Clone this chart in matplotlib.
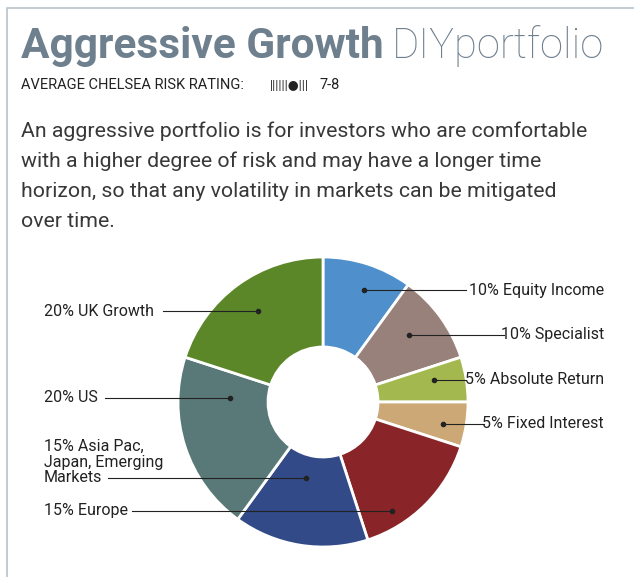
import matplotlib
matplotlib.use('Agg')
import matplotlib.pyplot as plt

plt.rcParams['font.family'] = ['Roboto', 'DejaVu Sans']

# 组合配置 (顺时针, 从12点方向开始)
labels = ["10% Equity Income", "10% Specialist", "5% Absolute Return", "5% Fixed Interest",
          "15% Europe", "15% Asia Pac,\nJapan, Emerging\nMarkets", "20% US", "20% UK Growth"]
shares = [10, 10, 5, 5, 15, 15, 20, 20]
colors = ["#4f8fcb", "#98817a", "#a3b94f", "#cda877",
          "#892528", "#324a88", "#587977", "#5b8729"]

W, H = 634, 577
def Y(y):
    return H - y  # 像素坐标, 从上往下

fig = plt.figure(figsize=(W / 100, H / 100), dpi=100)
ax = fig.add_axes([0, 0, 1, 1])

cx, cy, R = 323, 402, 145
ax.pie(shares, colors=colors, startangle=90, counterclock=False,
       center=(cx, Y(cy)), radius=R,
       wedgeprops=dict(width=R - 55, edgecolor='white', linewidth=2))
ax.set_xlim(0, W)
ax.set_ylim(0, H)
ax.set_aspect('equal')
ax.axis('off')

# 外框
ax.plot([7, 7, W], [0, Y(8), Y(8)], color="#b7c1cb", lw=1.2)

# 标题
title_color = "#6e7f8e"
t1 = ax.text(21, Y(58), "Aggressive Growth", fontsize=30.5, fontweight='bold',
             color=title_color, va='baseline')
ax.annotate("DIYportfolio", xy=(1, 0), xycoords=t1, xytext=(6, 0),
            textcoords='offset points', fontsize=30, fontweight='light',
            color=title_color, va='bottom')

ax.text(21, Y(89), "AVERAGE CHELSEA RISK RATING:", fontsize=10.5,
        color="#222222", va='baseline')
ax.text(270, Y(89), "||||||●|||", fontsize=9, color="#222222", va='baseline')
ax.text(320, Y(89), "7-8", fontsize=10.5, color="#222222", va='baseline')

body = ["An aggressive portfolio is for investors who are comfortable",
        "with a higher degree of risk and may have a longer time",
        "horizon, so that any volatility in markets can be mitigated",
        "over time."]
for i, line in enumerate(body):
    ax.text(21, Y(137 + 30 * i), line, fontsize=15.3, color="#383838",
            va='baseline')

# 标注: (文字x, 线y, 线起点x, 圆点x, 对齐, 文字y)
label_layout = [
    (604, 290, 466, 364, 'right', 290),
    (604, 335, 504, 409, 'right', 335),
    (604, 380, 466, 434, 'right', 380),
    (604, 424, 484, 443, 'right', 424),
    (44, 511, 132, 392, 'left', 511),
    (44, 478, 108, 306, 'left', 462),
    (44, 398, 105, 230, 'left', 398),
    (44, 311, 163, 258, 'left', 311),
]
for lab, (tx, ly, lx, dx, ha, ty) in zip(labels, label_layout):
    ax.plot([lx, dx], [Y(ly), Y(ly)], color="#222222", lw=0.8)
    ax.plot(dx, Y(ly), 'o', color="#222222", ms=3)
    ax.text(tx, Y(ty), lab, fontsize=11.5, color="#222222", ha=ha,
            va='center', linespacing=1.05)

fig.savefig("out.png", dpi=100)
